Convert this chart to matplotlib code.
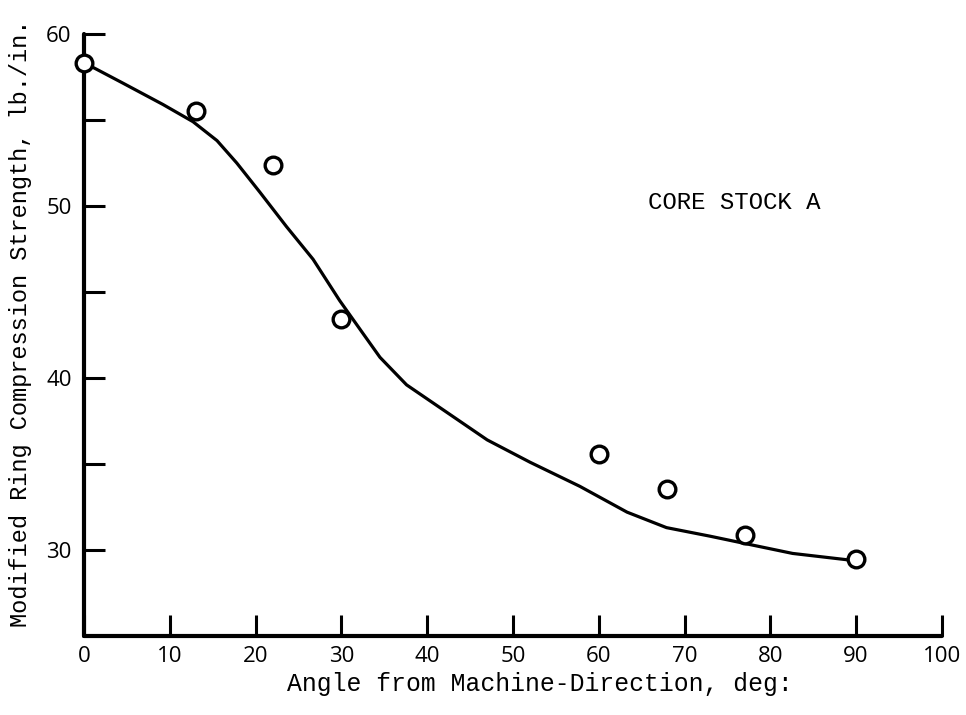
import matplotlib.pyplot as plt

# measured points (open circles)
angle = [0, 13, 22, 30, 60, 68, 77, 90]
strength = [58.3, 55.5, 52.4, 43.4, 35.6, 33.55, 30.9, 29.5]

# hand-drawn smooth curve
curve_x = [0.5, 4.5, 9.2, 12.7, 15.5, 17.8, 20.5, 23.6, 26.7, 29.8, 32.5, 34.5,
           37.6, 42.3, 47.0, 52.0, 57.8, 63.3, 67.9, 73.0, 77.3, 82.6, 89.5]
curve_y = [58.2, 57.15, 55.9, 54.9, 53.8, 52.5, 50.8, 48.8, 46.9, 44.5, 42.6, 41.2,
           39.6, 38.0, 36.4, 35.1, 33.7, 32.2, 31.3, 30.8, 30.35, 29.8, 29.4]

xticks = list(range(0, 101, 10))
yticks = [30, 35, 40, 45, 50, 55, 60]
ytick_labels = ["30", "", "40", "", "50", "", "60"]

MONO = "Liberation Mono"
TICKFONT = "Open Sans"

fig = plt.figure(figsize=(9.66, 7.15), dpi=100, facecolor="white")
ax = fig.add_axes([0.087, 0.1105, 0.888, 0.842])

ax.plot(curve_x, curve_y, color="black", lw=2.3, solid_capstyle="round",
        solid_joinstyle="round", zorder=2)
ax.plot(angle, strength, ls="none", marker="o", ms=12, mfc="white",
        mec="black", mew=2.4, zorder=3, clip_on=False)

ax.set_xlim(0, 100)
ax.set_ylim(25, 60)

for s in ("top", "right"):
    ax.spines[s].set_visible(False)
for s in ("left", "bottom"):
    ax.spines[s].set_linewidth(3)
    ax.spines[s].set_capstyle("round")

ax.set_xticks(xticks)
ax.set_xticklabels([str(t) for t in xticks])
ax.set_yticks(yticks)
ax.set_yticklabels(ytick_labels)
ax.tick_params(direction="in", length=15, width=2.2, color="black")
ax.tick_params(axis="x", pad=7)
ax.tick_params(axis="y", pad=9)
for lab in ax.get_xticklabels() + ax.get_yticklabels():
    lab.set_fontfamily(TICKFONT)
    lab.set_fontsize(16)

ax.set_xlabel("Angle from Machine-Direction, deg:", fontfamily=MONO, fontsize=17.8)
ax.set_ylabel("Modified Ring Compression Strength, lb./in.", fontfamily=MONO, fontsize=17)
ax.xaxis.set_label_coords(0.531, -0.060)
ax.yaxis.set_label_coords(-0.061, 0.52)

ax.text(75.8, 50.2, "CORE STOCK A", fontfamily=MONO, fontsize=17.3,
        ha="center", va="center")

fig.savefig("out.png", dpi=100, facecolor="white")
